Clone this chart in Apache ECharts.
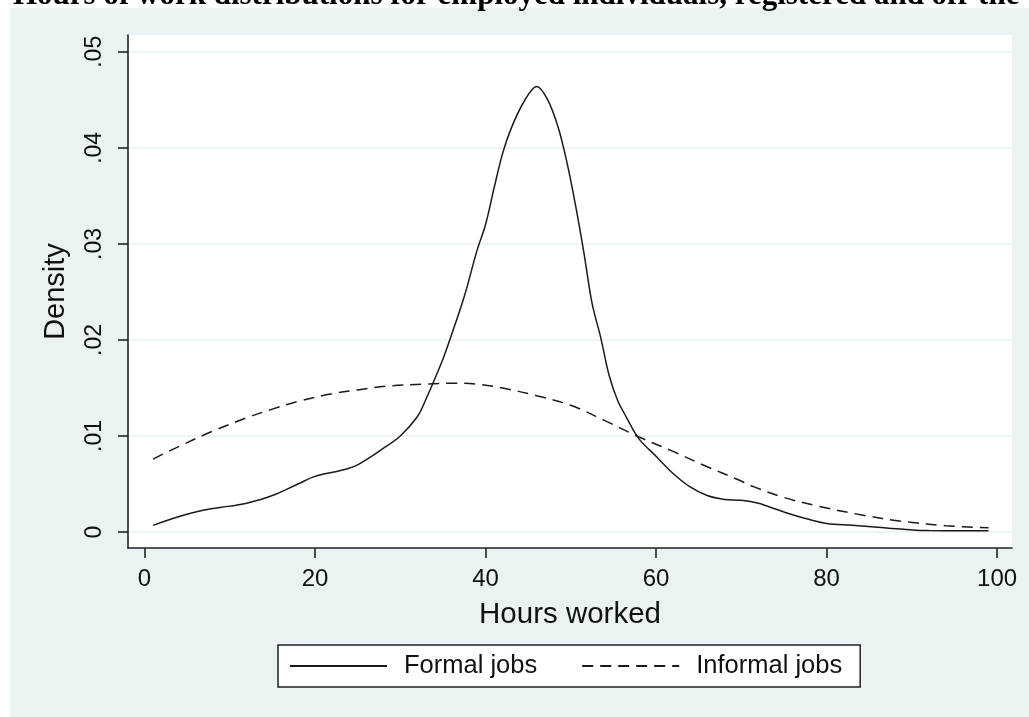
<!DOCTYPE html>
<html><head><meta charset="utf-8">
<script src="https://cdn.jsdelivr.net/npm/echarts@6/dist/echarts.min.js"></script>
<style>
html,body{margin:0;padding:0;background:#fff;overflow:hidden;}
#bg{position:absolute;left:10px;top:8px;width:1019px;height:709px;background:#eaf2f3;}
#chart{position:absolute;left:0;top:0;width:1029px;height:717px;}
</style></head><body>
<div id="bg"></div>
<div id="chart"></div>
<script>
const titleText = 'Hours of work distributions for employed individuals, registered and off-the';
const seriesNames = ['Formal jobs', 'Informal jobs'];
const xAxisTitle = 'Hours worked';
const yAxisTitle = 'Density';

const formalHours   = [1, 4, 7, 10, 12, 15, 18, 20, 23, 25, 28, 30, 32, 33, 35, 36, 37.5, 39, 40, 41, 42, 43, 44.5, 46, 47.3, 48.5, 49.5, 50.5, 51.5, 52.5, 53.5, 54.5, 55.5, 56.5, 58, 60, 62, 64, 66, 68, 70, 72, 74, 76, 78, 80, 83, 86, 89, 92, 96, 99];
const formalDensity = [0.0007, 0.0016, 0.0023, 0.0027, 0.0030, 0.0038, 0.0050, 0.0058, 0.0064, 0.0070, 0.0087, 0.0100, 0.0120, 0.0138, 0.0180, 0.0205, 0.0245, 0.0293, 0.0320, 0.0358, 0.0394, 0.0420, 0.0448, 0.0464, 0.0450, 0.0422, 0.0387, 0.0343, 0.0293, 0.0238, 0.0203, 0.0163, 0.0137, 0.0120, 0.0097, 0.0079, 0.0061, 0.0047, 0.0038, 0.0034, 0.0033, 0.0030, 0.0024, 0.0018, 0.0013, 0.0009, 0.0007, 0.0005, 0.0003, 0.00015, 0.00014, 0.00014];

const informalHours   = [1, 4, 8, 12, 15, 18, 22, 25, 28.5, 33, 36, 39, 42, 46, 50, 54, 58, 62, 66, 69.5, 71.5, 75, 79, 84, 89, 94, 99];
const informalDensity = [0.0076, 0.0089, 0.0105, 0.0119, 0.0128, 0.0136, 0.0144, 0.0148, 0.0152, 0.0154, 0.0155, 0.0154, 0.0150, 0.0142, 0.0132, 0.0116, 0.0099, 0.0084, 0.0068, 0.0055, 0.0047, 0.0036, 0.0027, 0.0018, 0.0011, 0.00066, 0.00045];

const xTickValues = [0, 20, 40, 60, 80, 100];
const yTickValues = [0, 0.01, 0.02, 0.03, 0.04, 0.05];
const yTickLabels = ['0', '.01', '.02', '.03', '.04', '.05'];

const INK = '#111';
const FONT = '"Liberation Sans", Arial, sans-serif';

function yLabel(v) {
  let best = 0, bd = Infinity;
  yTickValues.forEach((t, i) => { const d = Math.abs(t - v); if (d < bd) { bd = d; best = i; } });
  return yTickLabels[best];
}

const chart = echarts.init(document.getElementById('chart'), null, { renderer: 'canvas' });
chart.setOption({
  backgroundColor: 'transparent',
  animation: false,
  graphic: [{
    type: 'text', x: 13, y: -4, z: 10,
    style: { text: titleText, font: 'bold 31px "Liberation Serif", "Times New Roman", serif', fill: '#000', verticalAlign: 'middle', align: 'left' }
  }],
  grid: { left: 128, right: 17, top: 35, bottom: 169, show: true, backgroundColor: '#fff', borderWidth: 0 },
  legend: {
    data: seriesNames,
    left: 278, top: 645,
    orient: 'horizontal',
    itemWidth: 97, itemHeight: 14, itemGap: 44,
    padding: [8, 18, 8, 11],
    backgroundColor: '#fff', borderColor: '#222', borderWidth: 1.5, borderRadius: 0,
    itemStyle: { color: 'transparent', borderWidth: 0, opacity: 0 },
    textStyle: { fontFamily: FONT, fontSize: 25.5, color: INK, padding: [0, 0, 0, 12] }
  },
  xAxis: {
    type: 'value', min: -1.93, max: 101.75,
    name: xAxisTitle, nameLocation: 'middle', nameGap: 52,
    nameTextStyle: { fontFamily: FONT, fontSize: 29.5, color: INK },
    axisLine: { show: true, onZero: false, lineStyle: { color: '#222', width: 1.6 } },
    axisTick: { show: true, length: 10, customValues: xTickValues, lineStyle: { color: '#222', width: 1.6 } },
    axisLabel: { customValues: xTickValues, fontFamily: FONT, fontSize: 24, color: INK, margin: 19 },
    splitLine: { show: false }
  },
  yAxis: {
    type: 'value', min: -0.00166, max: 0.05175,
    name: yAxisTitle, nameLocation: 'middle', nameRotate: 90, nameGap: 58,
    nameTextStyle: { fontFamily: FONT, fontSize: 29, color: INK },
    axisLine: { show: true, onZero: false, lineStyle: { color: '#222', width: 1.6 } },
    axisTick: { show: true, length: 10, customValues: yTickValues, lineStyle: { color: '#222', width: 1.6 } },
    axisLabel: { customValues: yTickValues, rotate: 90, fontFamily: FONT, fontSize: 23, color: INK, margin: 22, formatter: yLabel },
    splitLine: { show: true, lineStyle: { color: '#eaf2f3', width: 1.5 } }
  },
  series: [
    {
      name: seriesNames[0], type: 'line', symbol: 'none', smooth: 0.35,
      data: formalHours.map((h, i) => [h, formalDensity[i]]),
      lineStyle: { color: '#1a1a1a', width: 1.5, type: 'solid' },
      itemStyle: { color: '#1a1a1a' }
    },
    {
      name: seriesNames[1], type: 'line', symbol: 'none', smooth: 0.35,
      data: informalHours.map((h, i) => [h, informalDensity[i]]),
      lineStyle: { color: '#1a1a1a', width: 1.5, type: [11, 7] },
      itemStyle: { color: '#1a1a1a' }
    }
  ]
});
</script>
</body></html>
